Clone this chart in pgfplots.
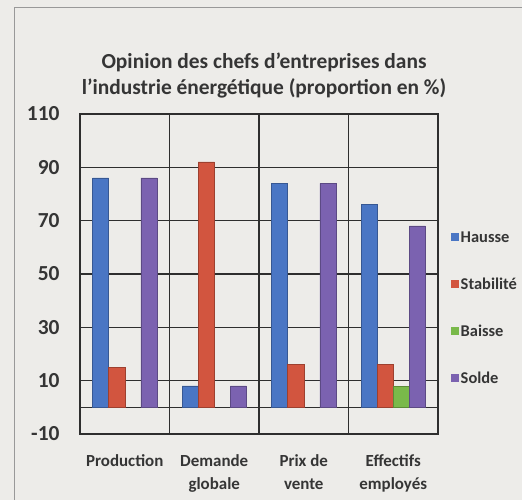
\documentclass[border=0pt]{standalone}
\usepackage{pgfplots}
\pgfplotsset{compat=1.18}
\usepackage{fontspec}
\setmainfont{Carlito}
\definecolor{bg}{HTML}{EDECE9}
\definecolor{txt}{HTML}{353535}
\definecolor{gridc}{HTML}{2E2E2E}
\definecolor{cH}{HTML}{4A76C4}
\definecolor{cS}{HTML}{D2553F}
\definecolor{cB}{HTML}{79B94A}
\definecolor{cO}{HTML}{7B62B0}
\begin{document}
\begin{tikzpicture}[x=1bp,y=1bp]
\fill[bg] (0,0) rectangle (522,500);
\useasboundingbox (0,0) rectangle (522,500);
\draw[gray!80,line width=0.8bp] (14,0) -- (14,493) -- (522,493);
\begin{axis}[
  at={(80bp,66bp)}, anchor=south west,
  scale only axis, width=358bp, height=320bp,
  xmin=-0.5, xmax=3.5, ymin=-10, ymax=110,
  ytick={-10,10,30,50,70,90,110},
  xtick={0,1,2,3},
  xticklabels={Production,{Demande\\globale},{Prix de\\vente},{Effectifs\\employés}},
  xticklabel style={align=center, font=\fontsize{17}{23}\selectfont\bfseries, text=txt, yshift=-17bp},
  yticklabel style={font=\fontsize{21.5}{22}\selectfont\bfseries, text=txt, xshift=-17bp},
  /pgf/number format/assume math mode=true,
  minor xtick={0.5,1.5,2.5},
  xminorgrids, ymajorgrids,
  extra y ticks={0}, extra y tick labels={}, extra y tick style={grid=major},
  major tick length=0pt, minor tick length=0pt,
  axis line style={gridc, line width=1.1bp},
  grid style={gridc, line width=1.1bp},
  minor grid style={gridc, line width=1.1bp},
  axis background/.style={fill=bg},
  title={Opinion des chefs d'entreprises dans\\l'industrie énergétique (proportion en \%)},
  title style={align=center, font=\fontsize{21.5}{26}\selectfont\bfseries, text=txt, at={(0.5,1)}, anchor=south, yshift=6bp, xshift=5bp},
  ybar=0pt, bar width=0.18,
  legend style={at={(1.035,0.64)}, anchor=north west, draw=none, fill=none,
    font=\fontsize{16.5}{18}\selectfont\bfseries, text=txt, row sep=30bp, inner sep=0pt},
  legend cell align=left,
  legend image code/.code={\fill[#1,draw=none] (0bp,-4bp) rectangle (8bp,4bp);},
]
\addplot[fill=cH, draw=cH!75!black, line width=0.4bp, bar shift=-0.27] coordinates {(0,86) (1,8) (2,84) (3,76)};
\addplot[fill=cS, draw=cS!75!black, line width=0.4bp, bar shift=-0.09] coordinates {(0,15) (1,92) (2,16) (3,16)};
\addplot[fill=cB, draw=cB!75!black, line width=0.4bp, bar shift=0.09] coordinates {(3,8)};
\addplot[fill=cO, draw=cO!75!black, line width=0.4bp, bar shift=0.27] coordinates {(0,86) (1,8) (2,84) (3,68)};
\legend{Hausse,Stabilité,Baisse,Solde}
\end{axis}
\end{tikzpicture}
\end{document}
